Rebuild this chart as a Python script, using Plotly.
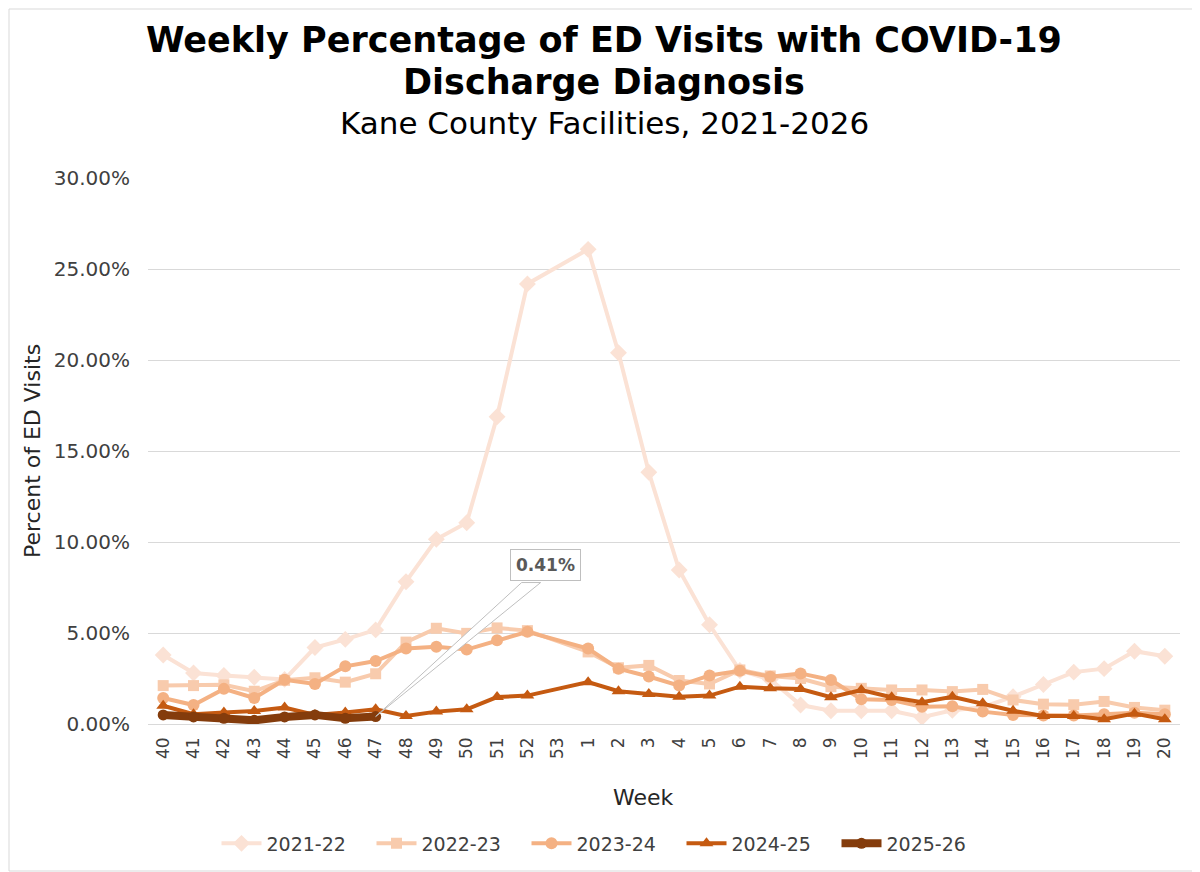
import plotly.graph_objects as go

# Surveillance weeks (week 53 has no data in any season)
weeks = [str(w) for w in range(40, 54)] + [str(w) for w in range(1, 21)]

s2021_22 = [3.79, 2.80, 2.67, 2.57, 2.45, 4.20, 4.65, 5.17, 7.82, 10.15, 11.06, 16.88, 24.18, None,
            26.08, 20.40, 13.83, 8.46, 5.45, 2.94, 2.45, 1.04, 0.73, 0.73, 0.73, 0.37, 0.75, 0.92,
            1.50, 2.17, 2.85, 3.04, 4.00, 3.72]
s2022_23 = [2.11, 2.11, 2.15, 1.80, 2.40, 2.54, 2.30, 2.76, 4.50, 5.26, 4.98, 5.28, 5.13, None,
            3.96, 3.09, 3.22, 2.39, 2.20, 2.97, 2.64, 2.50, 2.05, 1.96, 1.87, 1.87, 1.78, 1.90,
            1.32, 1.09, 1.06, 1.24, 0.91, 0.76]
s2023_24 = [1.43, 1.04, 1.93, 1.43, 2.43, 2.20, 3.17, 3.46, 4.15, 4.24, 4.09, 4.60, 5.07, None,
            4.15, 3.04, 2.61, 2.11, 2.67, 2.93, 2.60, 2.78, 2.42, 1.36, 1.32, 0.95, 0.97, 0.68,
            0.49, 0.47, 0.47, 0.54, 0.62, 0.54]
s2024_25 = [1.00, 0.54, 0.63, 0.72, 0.90, 0.50, 0.63, 0.81, 0.44, 0.68, 0.81, 1.48, 1.56, None,
            2.30, 1.80, 1.65, 1.50, 1.56, 2.05, 1.96, 1.92, 1.47, 1.87, 1.47, 1.19, 1.50, 1.14,
            0.73, 0.44, 0.44, 0.26, 0.57, 0.26]
s2025_26 = [0.50, 0.39, 0.31, 0.20, 0.39, 0.50, 0.31, 0.41]

seasons = ["2021-22", "2022-23", "2023-24", "2024-25", "2025-26"]
colors = ["#FBE2D5", "#F8CBAD", "#F4B183", "#C55A11", "#843C0C"]
symbols = ["diamond", "square", "circle", "triangle-up", "circle"]
msizes = [13, 11, 12, 12, 11]

FONT = "DejaVu Sans, Verdana, sans-serif"
# page body has an 8px margin, so the figure is 8px smaller than the window
W, H = 1192, 864
ML, MR, MT, MB = 140, 20, 170, 148
PW, PH = W - ML - MR, H - MT - MB

fig = go.Figure()

series = [s2021_22, s2022_23, s2023_24, s2024_25, s2025_26]
for i, (name, vals) in enumerate(zip(seasons, series)):
    last = i == len(seasons) - 1
    fig.add_trace(go.Scatter(
        x=weeks[:len(vals)], y=vals, name=name, mode="lines+markers",
        connectgaps=True,
        line=dict(color=colors[i], width=8 if last else 4),
        marker=dict(symbol=symbols[i], size=msizes[i], color=colors[i]),
    ))

# callout on the latest week of the current season
cur_idx = len(s2025_26) - 1
cur_val = s2025_26[-1]
fig.add_shape(type="path", xref="x", yref="y", xsizemode="pixel", ysizemode="pixel",
              xanchor=cur_idx, yanchor=cur_val,
              path="M 0 0 L 146 134 L 165 134 Z",
              fillcolor="white", line=dict(color="#BFBFBF", width=1), layer="above")
fig.add_annotation(x=cur_idx, y=cur_val, xref="x", yref="y", showarrow=False,
                   text="<b>%.2f%%</b>" % cur_val, xshift=170, yshift=152,
                   font=dict(family=FONT, size=17, color="#595959"),
                   bgcolor="white", bordercolor="#BFBFBF", borderwidth=1, borderpad=5)

# titles
cx = -(ML - MR) / 2
fig.add_annotation(x=0.5, y=1, xref="paper", yref="paper", xanchor="center", yanchor="middle",
                   showarrow=False, xshift=cx, yshift=138,
                   text="<b>Weekly Percentage of ED Visits with COVID-19</b>",
                   font=dict(family=FONT, size=35, color="black"))
fig.add_annotation(x=0.5, y=1, xref="paper", yref="paper", xanchor="center", yanchor="middle",
                   showarrow=False, xshift=cx, yshift=96,
                   text="<b>Discharge Diagnosis</b>",
                   font=dict(family=FONT, size=35, color="black"))
fig.add_annotation(x=0.5, y=1, xref="paper", yref="paper", xanchor="center", yanchor="middle",
                   showarrow=False, xshift=cx, yshift=55,
                   text="Kane County Facilities, 2021-2026",
                   font=dict(family=FONT, size=31, color="black"))

# axis titles
fig.add_annotation(x=0, y=0.5, xref="paper", yref="paper", xanchor="center", yanchor="middle",
                   showarrow=False, xshift=-116, textangle=-90, text="Percent of ED Visits",
                   font=dict(family=FONT, size=22, color="#262626"))
fig.add_annotation(x=0.5, y=0, xref="paper", yref="paper", xanchor="center", yanchor="middle",
                   showarrow=False, xshift=-21, yshift=-73, text="Week",
                   font=dict(family=FONT, size=22, color="#262626"))

# light chart border
fig.add_shape(type="rect", xref="paper", yref="paper",
              x0=-(ML - 1) / PW, x1=1 + (MR - 1) / PW, y0=-(MB - 1) / PH, y1=1 + (MT - 1) / PH,
              line=dict(color="#D9D9D9", width=1))

fig.update_xaxes(type="category", categoryorder="array", categoryarray=weeks,
                 range=[-0.5, len(weeks) - 0.5], tickangle=-90, showgrid=False,
                 showline=False, ticks="", ticklabelstandoff=9,
                 tickfont=dict(family=FONT, size=17, color="#404040"))
fig.update_yaxes(range=[0, 30], dtick=5, tickformat=".2f", ticksuffix="%",
                 showgrid=True, gridcolor="#D9D9D9", gridwidth=1, zeroline=True,
                 zerolinecolor="#D9D9D9", zerolinewidth=1, showline=False, ticks="",
                 ticklabelstandoff=17,
                 tickfont=dict(family=FONT, size=20, color="#404040"))

fig.update_layout(
    width=W, height=H,
    margin=dict(l=ML, r=MR, t=MT, b=MB),
    plot_bgcolor="white", paper_bgcolor="white",
    font=dict(family=FONT, color="#404040"),
    showlegend=True,
    legend=dict(orientation="h", xref="container", yref="container", x=0.5, y=0.033,
                xanchor="center", yanchor="middle", itemwidth=40, entrywidth=100,
                font=dict(family=FONT, size=19, color="#404040")),
)

fig.write_html("out.html")
